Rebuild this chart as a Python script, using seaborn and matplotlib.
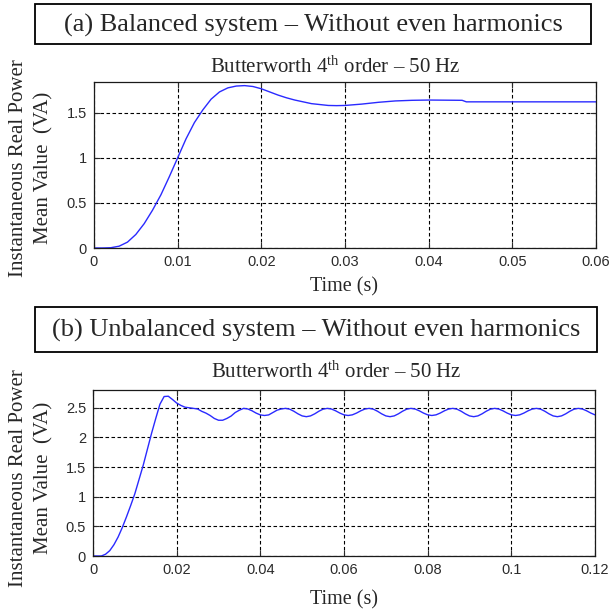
import numpy as np
import pandas as pd
import matplotlib
matplotlib.use("Agg")
import matplotlib.pyplot as plt
from matplotlib.patches import Rectangle
import seaborn as sns

# ---------------- data ----------------
t_a = [0.000, 0.001, 0.002, 0.003, 0.004, 0.005, 0.006, 0.007, 0.008, 0.009,
       0.010, 0.011, 0.012, 0.013, 0.014, 0.015, 0.016, 0.017, 0.018, 0.019,
       0.020, 0.021, 0.022, 0.023, 0.024, 0.025, 0.026, 0.027, 0.028, 0.029,
       0.030, 0.032, 0.034, 0.036, 0.038, 0.040, 0.044, 0.0445, 0.050, 0.060]
p_a = [0.000, 0.000, 0.003, 0.020, 0.065, 0.150, 0.270, 0.420, 0.590, 0.790,
       1.000, 1.210, 1.390, 1.530, 1.650, 1.730, 1.775, 1.795, 1.800, 1.790,
       1.765, 1.730, 1.695, 1.665, 1.640, 1.620, 1.600, 1.590, 1.580, 1.578,
       1.580, 1.595, 1.615, 1.630, 1.637, 1.640, 1.637, 1.620, 1.620, 1.620]

t_b = [0.000, 0.001, 0.002, 0.003, 0.004, 0.005, 0.006, 0.007, 0.008, 0.009,
       0.010, 0.011, 0.012, 0.013, 0.014, 0.015, 0.016, 0.017, 0.018, 0.019,
       0.020, 0.021, 0.022, 0.023, 0.024, 0.025, 0.026, 0.027, 0.028, 0.029,
       0.030, 0.031, 0.032, 0.033, 0.034, 0.035, 0.036, 0.037, 0.038, 0.039,
       0.040, 0.041, 0.042, 0.043, 0.044, 0.045, 0.046, 0.047, 0.048, 0.049,
       0.050, 0.051, 0.052, 0.053, 0.054, 0.055, 0.056, 0.057, 0.058, 0.059,
       0.060, 0.061, 0.062, 0.063, 0.064, 0.065, 0.066, 0.067, 0.068, 0.069,
       0.070, 0.071, 0.072, 0.073, 0.074, 0.075, 0.076, 0.077, 0.078, 0.079,
       0.080, 0.081, 0.082, 0.083, 0.084, 0.085, 0.086, 0.087, 0.088, 0.089,
       0.090, 0.091, 0.092, 0.093, 0.094, 0.095, 0.096, 0.097, 0.098, 0.099,
       0.100, 0.101, 0.102, 0.103, 0.104, 0.105, 0.106, 0.107, 0.108, 0.109,
       0.110, 0.111, 0.112, 0.113, 0.114, 0.115, 0.116, 0.117, 0.118, 0.119,
       0.120]
p_b = [0.000, 0.000, 0.000, 0.030, 0.090, 0.190, 0.320, 0.480, 0.660, 0.850,
       1.050, 1.290, 1.530, 1.800, 2.070, 2.320, 2.560, 2.690, 2.695, 2.640,
       2.580, 2.540, 2.510, 2.500, 2.490, 2.480, 2.440, 2.410, 2.370, 2.320,
       2.290, 2.290, 2.320, 2.360, 2.420, 2.460, 2.490, 2.480, 2.450, 2.410,
       2.380, 2.370, 2.380, 2.420, 2.460, 2.480, 2.490, 2.477, 2.442, 2.398,
       2.363, 2.350, 2.363, 2.398, 2.442, 2.477, 2.490, 2.479, 2.449, 2.411,
       2.381, 2.370, 2.381, 2.411, 2.449, 2.479, 2.490, 2.477, 2.442, 2.398,
       2.363, 2.350, 2.363, 2.398, 2.442, 2.477, 2.490, 2.479, 2.449, 2.411,
       2.381, 2.370, 2.381, 2.411, 2.449, 2.479, 2.490, 2.477, 2.442, 2.398,
       2.363, 2.350, 2.363, 2.398, 2.442, 2.477, 2.490, 2.479, 2.449, 2.411,
       2.381, 2.370, 2.381, 2.411, 2.449, 2.479, 2.490, 2.477, 2.442, 2.398,
       2.363, 2.350, 2.363, 2.398, 2.442, 2.477, 2.490, 2.479, 2.449, 2.411,
       2.381]

xticks_a = [0, 0.01, 0.02, 0.03, 0.04, 0.05, 0.06]
xlabels_a = ["0", "0.01", "0.02", "0.03", "0.04", "0.05", "0.06"]
yticks_a = [0, 0.5, 1, 1.5]
ylabels_a = ["0", "0.5", "1", "1.5"]
xticks_b = [0, 0.02, 0.04, 0.06, 0.08, 0.10, 0.12]
xlabels_b = ["0", "0.02", "0.04", "0.06", "0.08", "0.1", "0.12"]
yticks_b = [0, 0.5, 1, 1.5, 2, 2.5]
ylabels_b = ["0", "0.5", "1", "1.5", "2", "2.5"]

title_a = "(a) Balanced system \u2013 Without even harmonics"
title_b = "(b) Unbalanced system \u2013 Without even harmonics"
subtitle = "Butterworth 4$^{\\mathrm{th}}$ order \u2013 50 Hz"
xlab = "Time (s)"
ylab = "Instantaneous Real Power\nMean Value  (VA)"

# ---------------- style ----------------
sns.set_style("white")
plt.rcParams["font.family"] = ["Liberation Serif", "DejaVu Serif"]
plt.rcParams["mathtext.fontset"] = "custom"
plt.rcParams["mathtext.rm"] = "Liberation Serif"
plt.rcParams["mathtext.it"] = "Liberation Serif:italic"

W, H = 610, 615
fig = plt.figure(figsize=(W / 100, H / 100), dpi=100)
fig.patch.set_facecolor("white")


def px_axes(left, top, right, bottom):
    return fig.add_axes([left / W, 1 - bottom / H, (right - left) / W, (bottom - top) / H])


ax_a = px_axes(94, 82, 596, 248)
ax_b = px_axes(93, 390, 595, 556)

df_a = pd.DataFrame({"t": t_a, "p": p_a})
df_b = pd.DataFrame({"t": t_b, "p": p_b})

line_color = "#2a2aff"
sns.lineplot(data=df_a, x="t", y="p", ax=ax_a, color=line_color, linewidth=1.0, sort=False)
sns.lineplot(data=df_b, x="t", y="p", ax=ax_b, color=line_color, linewidth=1.0, sort=False)

tick_font = {"family": "Liberation Sans", "size": 10.5}

for ax, xt, xl, yt, yl, xlim, ylim in [
    (ax_a, xticks_a, xlabels_a, yticks_a, ylabels_a, (0, 0.06), (0, 1.84)),
    (ax_b, xticks_b, xlabels_b, yticks_b, ylabels_b, (0, 0.12), (0, 2.8)),
]:
    ax.set_xlim(*xlim)
    ax.set_ylim(*ylim)
    ax.set_xticks(xt)
    ax.set_xticklabels(xl, fontdict=tick_font, color="#333333")
    ax.set_yticks(yt)
    ax.set_yticklabels(yl, fontdict=tick_font, color="#333333")
    ax.tick_params(direction="in", length=4, width=0.8, top=True, right=True,
                   bottom=True, left=True, pad=5, colors="#2b2b2b")
    ax.grid(True, color="black", linestyle=(0, (3.2, 2.2)), linewidth=0.8)
    ax.set_axisbelow(True)
    for s in ax.spines.values():
        s.set_color("#1a1a1a")
        s.set_linewidth(0.9)
    ax.set_xlabel("")
    ax.set_ylabel("")

# axis labels and subtitles (positions in figure pixels)
def ftext(x, y, s, **kw):
    fig.text(x / W, 1 - y / H, s, **kw)

ftext(335, 67, subtitle, ha="center", va="center", fontsize=15)
ftext(336, 372, subtitle, ha="center", va="center", fontsize=15)
ftext(344, 287, xlab, ha="center", va="center", fontsize=14.5)
ftext(344, 600, xlab, ha="center", va="center", fontsize=14.5)
ftext(31, 168, ylab, ha="center", va="center", rotation=90, fontsize=15, linespacing=1.45)
ftext(31, 478, ylab, ha="center", va="center", rotation=90, fontsize=15, linespacing=1.45)

# boxed panel titles
for (l, t, r, b, s) in [(35, 4, 591, 44, title_a), (35, 307, 597, 352, title_b)]:
    fig.patches.append(Rectangle((l / W, 1 - b / H), (r - l) / W, (b - t) / H,
                                 transform=fig.transFigure, fill=False,
                                 edgecolor="black", linewidth=1.3))
    ftext((l + r) / 2, (t + b) / 2 + 1, s, ha="center", va="center", fontsize=19)

fig.savefig("out.png", dpi=100, facecolor="white")
